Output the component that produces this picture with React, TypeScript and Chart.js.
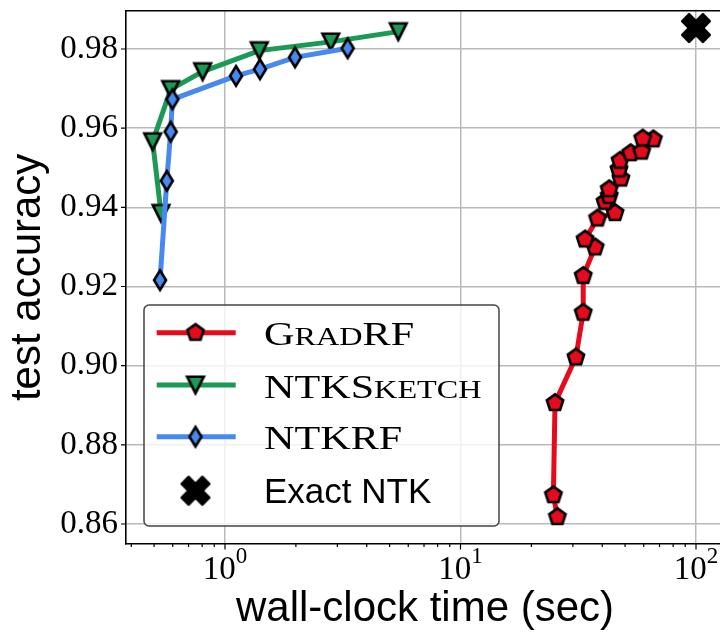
import React, { useEffect, useRef } from 'react';
import { Chart, registerables } from 'chart.js';

Chart.register(...registerables);

// ---- data ----
const gradRFTime = [25.8, 24.8, 25.2, 30.9, 33.2, 33.2, 37.3, 33.8, 38.2, 45.3, 41.1, 42.8, 42.8, 48.0, 47.1, 47.6, 52.8, 58.8, 65.9, 59.4];
const gradRFAcc = [0.8618, 0.8673, 0.8906, 0.9021, 0.9134, 0.9227, 0.9299, 0.9319, 0.9372, 0.9386, 0.9414, 0.9429, 0.9446, 0.9473, 0.9496, 0.9518, 0.9537, 0.9541, 0.9572, 0.9574];

const sketchTime = [0.535, 0.493, 0.588, 0.804, 1.398, 2.811, 5.443];
const sketchAcc = [0.9385, 0.9566, 0.9698, 0.9743, 0.9796, 0.9818, 0.9844];

const ntkrfTime = [0.53, 0.566, 0.588, 0.598, 1.114, 1.408, 1.983, 3.319];
const ntkrfAcc = [0.9216, 0.9467, 0.9591, 0.9673, 0.9732, 0.9749, 0.9779, 0.9802];

const exactTime = [100];
const exactAcc = [0.9853];

const yTicks = [0.86, 0.88, 0.9, 0.92, 0.94, 0.96, 0.98];
const xMajorTicks = [1, 10, 100];
const xTickBase = ['10', '10', '10'];
const xTickExp = ['0', '1', '2'];
const xMinorTicks = [0.4, 0.5, 0.6, 0.7, 0.8, 0.9, 2, 3, 4, 5, 6, 7, 8, 9, 20, 30, 40, 50, 60, 70, 80, 90];

const seriesNames = ['GradRF', 'NTKSketch', 'NTKRF', 'Exact NTK'];
// legend labels drawn in small caps: [text, isSmall]
const legendSegments: [string, boolean][][] = [
  [['G', false], ['RAD', true], ['RF', false]],
  [['NTKS', false], ['KETCH', true]],
  [['NTKRF', false]],
];

const RED = '#e60b1c';
const GREEN = '#1a9a55';
const BLUE = '#4689f0';

function makeMarker(kind: string, fill: string): HTMLCanvasElement {
  const S = 40;
  const c = document.createElement('canvas');
  c.width = S;
  c.height = S;
  const g = c.getContext('2d')!;
  g.translate(S / 2, S / 2);
  g.fillStyle = fill;
  g.strokeStyle = '#000';
  g.lineWidth = 2.6;
  g.lineJoin = 'miter';
  g.beginPath();
  if (kind === 'pentagon') {
    const r = 8.6;
    for (let i = 0; i < 5; i++) {
      const a = -Math.PI / 2 + (i * 2 * Math.PI) / 5;
      const px = r * Math.cos(a);
      const py = r * Math.sin(a);
      if (i === 0) g.moveTo(px, py);
      else g.lineTo(px, py);
    }
  } else if (kind === 'tri') {
    const r = 8.3;
    g.moveTo(0, r);
    g.lineTo(-r, -r);
    g.lineTo(r, -r);
  } else if (kind === 'diamond') {
    const h = 9.8;
    const w = 6.0;
    g.moveTo(0, -h);
    g.lineTo(w, 0);
    g.lineTo(0, h);
    g.lineTo(-w, 0);
  } else if (kind === 'x') {
    g.lineJoin = 'round';
    const L = 14.6;
    const t = L / 3;
    const pts = [
      [-t, -L], [t, -L], [t, -t], [L, -t], [L, t], [t, t], [t, L], [-t, L], [-t, t], [-L, t], [-L, -t], [-t, -t],
    ];
    const ca = Math.cos(Math.PI / 4);
    pts.forEach(([px, py], i) => {
      const rx = px * ca - py * ca;
      const ry = px * ca + py * ca;
      if (i === 0) g.moveTo(rx, ry);
      else g.lineTo(rx, ry);
    });
  }
  g.closePath();
  g.fill();
  g.stroke();
  return c;
}

export default function App() {
  const ref = useRef<HTMLCanvasElement>(null);

  useEffect(() => {
    const canvas = ref.current!;
    const mPent = makeMarker('pentagon', RED);
    const mTri = makeMarker('tri', GREEN);
    const mDia = makeMarker('diamond', BLUE);
    const mX = makeMarker('x', '#000');
    const markers = [mPent, mTri, mDia, mX];
    const colors = [RED, GREEN, BLUE, '#000'];

    const decor = {
      id: 'decor',
      afterDraw(chart: any) {
        const { ctx, chartArea: ca, scales } = chart;
        const xs = scales.x;
        const ys = scales.y;
        ctx.save();
        // top/right spines
        ctx.strokeStyle = '#000';
        ctx.lineWidth = 1.6;
        ctx.beginPath();
        ctx.moveTo(ca.left, ca.top);
        ctx.lineTo(ca.right, ca.top);
        ctx.lineTo(ca.right, ca.bottom);
        ctx.stroke();
        // ticks
        ctx.lineWidth = 1.2;
        ctx.beginPath();
        for (const v of yTicks) {
          const y = ys.getPixelForValue(v);
          ctx.moveTo(ca.left - 5, y);
          ctx.lineTo(ca.left, y);
        }
        for (const v of xMajorTicks) {
          const x = xs.getPixelForValue(v);
          ctx.moveTo(x, ca.bottom);
          ctx.lineTo(x, ca.bottom + 5.5);
        }
        for (const v of xMinorTicks) {
          const x = xs.getPixelForValue(v);
          ctx.moveTo(x, ca.bottom);
          ctx.lineTo(x, ca.bottom + 3);
        }
        ctx.stroke();
        // x tick labels with superscripts
        ctx.fillStyle = '#000';
        ctx.textBaseline = 'alphabetic';
        ctx.textAlign = 'left';
        xMajorTicks.forEach((v, i) => {
          const x = xs.getPixelForValue(v);
          ctx.font = '33px "Liberation Serif", serif';
          const wb = ctx.measureText(xTickBase[i]).width;
          ctx.font = '23px "Liberation Serif", serif';
          const we = ctx.measureText(xTickExp[i]).width;
          const start = x - (wb + we) / 2;
          ctx.font = '33px "Liberation Serif", serif';
          ctx.fillText(xTickBase[i], start, ca.bottom + 35);
          ctx.font = '23px "Liberation Serif", serif';
          ctx.fillText(xTickExp[i], start + wb, ca.bottom + 19);
        });
        // legend
        const bw = 355;
        const bh = 221;
        const bx = ca.left + 18;
        const by = ca.bottom - 18 - bh;
        ctx.beginPath();
        ctx.roundRect(bx, by, bw, bh, 5);
        ctx.fillStyle = 'rgba(255,255,255,0.8)';
        ctx.fill();
        ctx.strokeStyle = '#444';
        ctx.lineWidth = 1.5;
        ctx.stroke();
        const rowOff = [27.7, 80, 131.7, 185.7];
        const textX = bx + 120;
        for (let i = 0; i < 4; i++) {
          const ry = by + rowOff[i];
          if (i < 3) {
            ctx.strokeStyle = colors[i];
            ctx.lineWidth = 5;
            ctx.lineCap = 'butt';
            ctx.beginPath();
            ctx.moveTo(bx + 12.7, ry);
            ctx.lineTo(bx + 91.7, ry);
            ctx.stroke();
          }
          const m = markers[i];
          ctx.drawImage(m, bx + 51.5 - m.width / 2, ry - m.height / 2);
          ctx.fillStyle = '#000';
          if (i < 3) {
            ctx.save();
            ctx.translate(textX, ry + 12.5);
            ctx.scale(1.24, 1);
            let cx = 0;
            for (const [txt, small] of legendSegments[i]) {
              ctx.font = (small ? '26px' : '34px') + ' "Liberation Serif", serif';
              ctx.fillText(txt, cx, 0);
              cx += ctx.measureText(txt).width;
            }
            ctx.restore();
          } else {
            ctx.font = '35px "Liberation Sans", Arial, sans-serif';
            ctx.fillText(seriesNames[3], textX, ry + 12);
          }
        }
        ctx.restore();
      },
    };

    const toPts = (xs: number[], ys: number[]) => xs.map((x, i) => ({ x, y: ys[i] }));

    const chart = new Chart(canvas, {
      type: 'line',
      data: {
        datasets: [
          {
            label: seriesNames[0],
            data: toPts(gradRFTime, gradRFAcc),
            borderColor: RED,
            borderWidth: 5,
            pointStyle: mPent as any,
            pointRadius: 9,
            order: 4,
            tension: 0,
          },
          {
            label: seriesNames[1],
            data: toPts(sketchTime, sketchAcc),
            borderColor: GREEN,
            borderWidth: 5,
            pointStyle: mTri as any,
            pointRadius: 9,
            order: 3,
            tension: 0,
          },
          {
            label: seriesNames[2],
            data: toPts(ntkrfTime, ntkrfAcc),
            borderColor: BLUE,
            borderWidth: 5,
            pointStyle: mDia as any,
            pointRadius: 9,
            order: 2,
            tension: 0,
          },
          {
            label: seriesNames[3],
            data: toPts(exactTime, exactAcc),
            showLine: false,
            borderColor: '#000',
            pointStyle: mX as any,
            pointRadius: 15,
            order: 1,
          },
        ],
      },
      options: {
        responsive: false,
        animation: false,
        events: [],
        layout: { autoPadding: false, padding: { top: 10.7, right: 6, bottom: 0, left: 0 } },
        plugins: { legend: { display: false }, tooltip: { enabled: false } },
        scales: {
          x: {
            type: 'logarithmic',
            bounds: 'data',
            min: 0.3799,
            max: 131.5,
            afterBuildTicks: (s: any) => {
              s.ticks = [...xMinorTicks, ...xMajorTicks].sort((a, b) => a - b).map((v) => ({ value: v, major: xMajorTicks.includes(v) }));
            },
            afterFit: (s: any) => {
              s.height = 89;
              s.paddingLeft = 0;
              s.paddingRight = 0;
            },
            grid: {
              color: (c: any) => (c.tick && xMajorTicks.includes(c.tick.value) ? '#b9b9b9' : 'rgba(0,0,0,0)'),
              lineWidth: 1.5,
              drawTicks: false,
            },
            border: { display: true, color: '#000', width: 1.6 },
            ticks: { display: false },
            title: {
              display: true,
              text: 'wall-clock time (sec)',
              color: '#000',
              font: { family: '"Liberation Sans", Arial, sans-serif', size: 42, lineHeight: 1 },
              padding: { top: 0, bottom: 2.5 },
            },
          },
          y: {
            type: 'linear',
            bounds: 'data',
            min: 0.85495,
            max: 0.98968,
            afterBuildTicks: (s: any) => {
              s.ticks = yTicks.map((v) => ({ value: v }));
            },
            afterFit: (s: any) => {
              s.width = 126;
              s.paddingTop = 0;
              s.paddingBottom = 0;
            },
            grid: { color: '#b9b9b9', lineWidth: 1.5, drawTicks: false },
            border: { display: true, color: '#000', width: 1.6 },
            ticks: {
              padding: 8,
              color: '#000',
              font: { family: '"Liberation Serif", serif', size: 33 },
              callback: (v: any) => Number(v).toFixed(2),
            },
            title: {
              display: true,
              text: 'test accuracy',
              color: '#000',
              font: { family: '"Liberation Sans", Arial, sans-serif', size: 42, lineHeight: 1 },
              padding: { top: 7.5, bottom: 0 },
            },
          },
        },
      },
      plugins: [decor],
    });
    return () => chart.destroy();
  }, []);

  return (
    <div style={{ position: 'absolute', left: 0, top: 0, width: 720, height: 633, overflow: 'hidden', background: '#fff' }}>
      <canvas ref={ref} width={730} height={633} style={{ display: 'block' }} />
    </div>
  );
}
